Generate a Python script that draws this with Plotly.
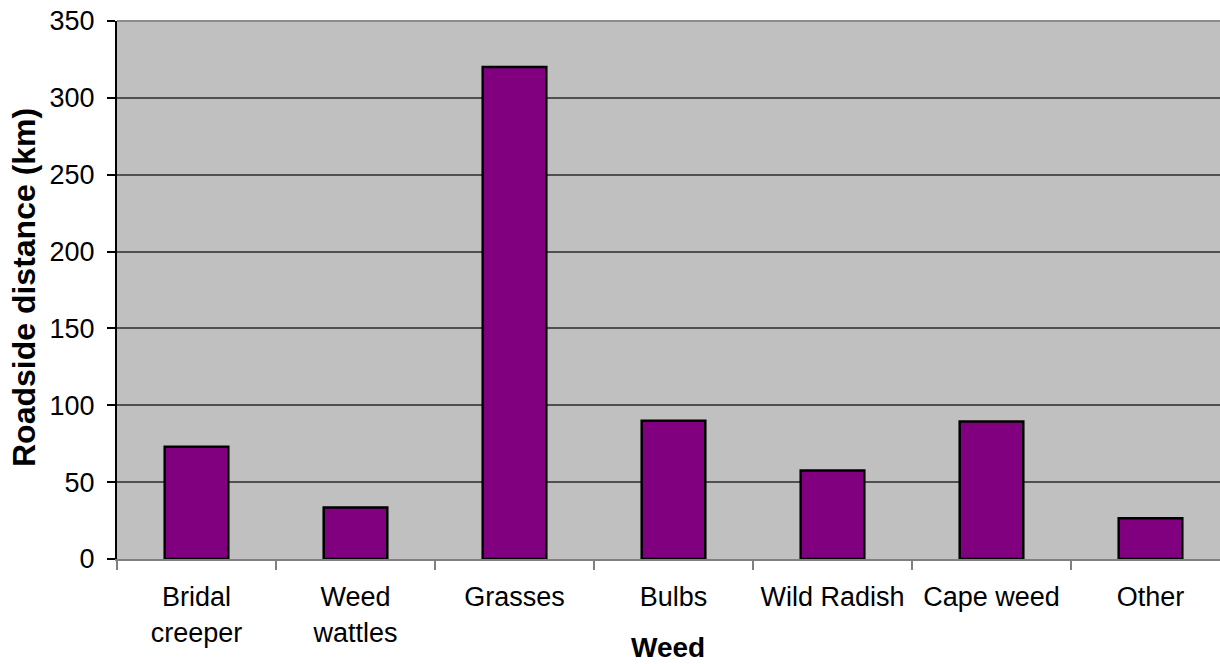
import plotly.graph_objects as go

categories = ["Bridal<br>creeper", "Weed<br>wattles", "Grasses", "Bulbs", "Wild Radish", "Cape weed", "Other"]
values = [73, 33.5, 320, 90, 57.5, 89.5, 26.5]
y_ticks = [0, 50, 100, 150, 200, 250, 300, 350]

fig = go.Figure()
fig.add_trace(go.Bar(
    x=categories, y=values,
    marker=dict(color="#800080", line=dict(color="#000000", width=2.5)),
    width=0.4,
))

font_family = "Liberation Sans, Arial, sans-serif"
fig.update_layout(
    width=1220, height=664,
    margin=dict(l=117, r=0, t=21, b=105),
    plot_bgcolor="#C0C0C0", paper_bgcolor="#FFFFFF",
    showlegend=False,
    font=dict(family=font_family, size=27, color="#000000"),
    xaxis=dict(
        type="category",
        range=[-0.5, -0.5 + 1103 / 159],
        tickson="boundaries",
        ticks="outside", ticklen=9, tickcolor="#808080", tickwidth=1.5,
        showline=True, linecolor="#808080", linewidth=2,
        showgrid=False,
        tickfont=dict(size=27),
        ticklabelstandoff=13,
    ),
    yaxis=dict(
        range=[0, 350],
        tickvals=y_ticks,
        ticks="outside", ticklen=8, tickcolor="#000000", tickwidth=1.5,
        showline=True, linecolor="#000000", linewidth=2,
        showgrid=True, gridcolor="#505050", gridwidth=1.5,
        zeroline=False,
        tickfont=dict(size=27),
        ticklabelstandoff=7,
    ),
    shapes=[dict(type="line", xref="paper", yref="paper", x0=0, x1=1, y0=1, y1=1,
                 line=dict(color="#8C8C8C", width=2))],
    annotations=[
        dict(text="<b>Weed</b>", xref="paper", yref="paper",
             x=(668 - 117) / 1103, y=(559 - 664) / 538,
             xanchor="center", yanchor="bottom", showarrow=False,
             borderpad=0, font=dict(size=28)),
        dict(text="<b>Roadside distance (km)</b>", xref="paper", yref="paper",
             x=(24 - 117) / 1103, y=(559 - 288) / 538, textangle=-90,
             xanchor="center", yanchor="middle", showarrow=False,
             font=dict(size=32)),
    ],
)

fig.write_html("out.html")
